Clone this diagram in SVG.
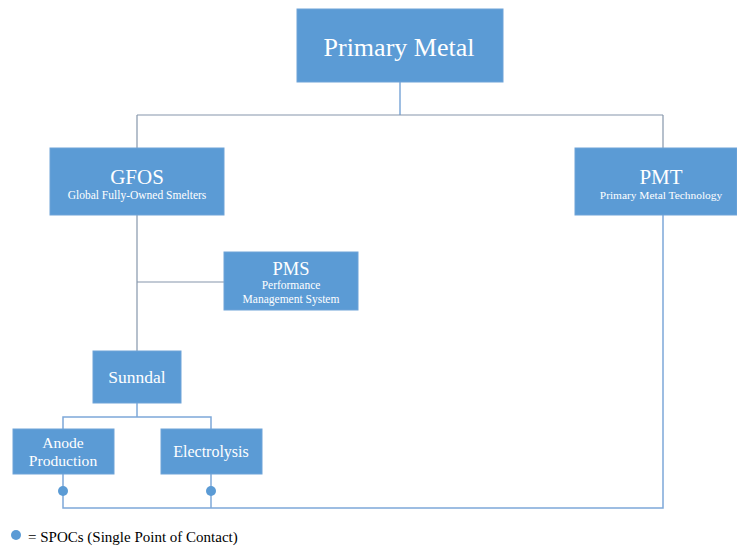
<svg xmlns="http://www.w3.org/2000/svg" width="737" height="547" viewBox="0 0 737 547">
  <style>
    .box { fill: #5B9BD5; stroke: #6FA3D8; stroke-width: 1; }
    .t { fill: #ffffff; font-family: "Liberation Serif", "Times New Roman", serif; text-anchor: middle; }
    .lb { fill: none; stroke: #7EA8D9; stroke-width: 1.5; }
    .lg { fill: none; stroke: #8596AB; stroke-width: 1.2; }
    .dot { fill: #5B9BD5; }
    .legend { fill: #000000; font-family: "Liberation Serif", "Times New Roman", serif; font-size: 15px; }
  </style>
  <rect width="737" height="547" fill="#ffffff"/>

  <g id="connectors">
    <path class="lb" d="M400,82 V115"/>
    <path class="lg" d="M137,115 H663"/>
    <path class="lg" d="M137,115 V148"/>
    <path class="lg" d="M663,115 V148"/>
    <path class="lg" d="M137,215 V351"/>
    <path class="lg" d="M137,282 H224"/>
    <path class="lb" d="M137,403 V417"/>
    <path class="lb" d="M63,429 V417 H211 V429"/>
    <path class="lb" d="M63,474 V508 H663 V215"/>
    <path class="lb" d="M211,474 V508"/>
    <circle class="dot" cx="63" cy="491" r="5"/>
    <circle class="dot" cx="211" cy="491" r="5"/>
  </g>

  <g id="primary-metal">
    <rect class="box" x="297" y="9" width="206" height="73"/>
    <text class="t" x="399" y="56" font-size="26">Primary Metal</text>
  </g>

  <g id="gfos">
    <rect class="box" x="50" y="148" width="174" height="67"/>
    <text class="t" x="137" y="184" font-size="21">GFOS</text>
    <text class="t" x="137" y="199" font-size="11.5">Global Fully-Owned Smelters</text>
  </g>

  <g id="pmt">
    <rect class="box" x="575" y="148" width="162" height="67"/>
    <text class="t" x="661" y="184" font-size="21">PMT</text>
    <text class="t" x="661" y="199" font-size="11.4">Primary Metal Technology</text>
  </g>

  <g id="pms">
    <rect class="box" x="224" y="252" width="134" height="58"/>
    <text class="t" x="291" y="275" font-size="18.5">PMS</text>
    <text class="t" x="291" y="289" font-size="11.5">Performance</text>
    <text class="t" x="291" y="303" font-size="11.5">Management System</text>
  </g>

  <g id="sunndal">
    <rect class="box" x="93" y="351" width="88" height="52"/>
    <text class="t" x="137" y="383" font-size="17.5">Sunndal</text>
  </g>

  <g id="anode-production">
    <rect class="box" x="13" y="429" width="101" height="45"/>
    <text class="t" x="63" y="448" font-size="15.6">Anode</text>
    <text class="t" x="63" y="466" font-size="15.6">Production</text>
  </g>

  <g id="electrolysis">
    <rect class="box" x="161" y="429" width="101" height="45"/>
    <text class="t" x="211" y="457" font-size="16">Electrolysis</text>
  </g>

  <g id="legend">
    <circle class="dot" cx="16" cy="535" r="5"/>
    <text class="legend" x="28" y="542">= SPOCs (Single Point of Contact)</text>
  </g>
</svg>
